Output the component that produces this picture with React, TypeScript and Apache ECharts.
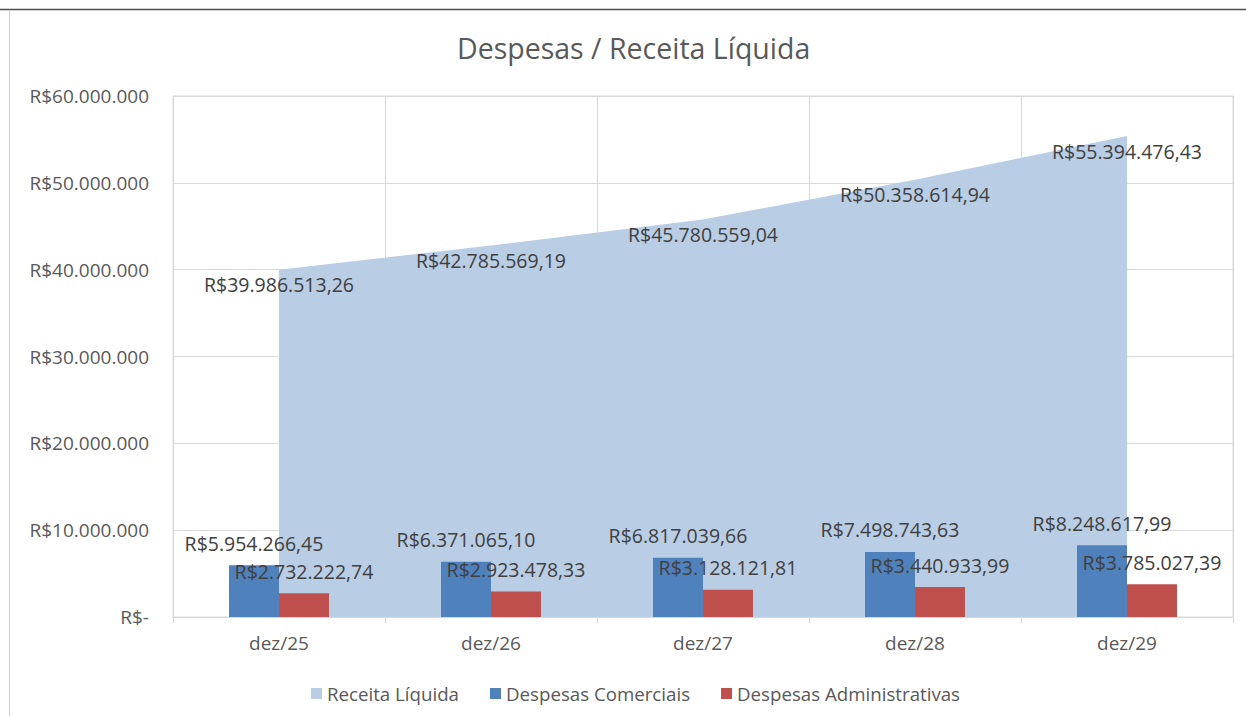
import React, { useEffect, useRef } from "react";
import * as echarts from "echarts";

const categories = ["dez/25", "dez/26", "dez/27", "dez/28", "dez/29"];
const receitaLiquida = [39986513.26, 42785569.19, 45780559.04, 50358614.94, 55394476.43];
const despesasComerciais = [5954266.45, 6371065.1, 6817039.66, 7498743.63, 8248617.99];
const despesasAdministrativas = [2732222.74, 2923478.33, 3128121.81, 3440933.99, 3785027.39];

function groupThousands(intPart: string): string {
  return intPart.replace(/\B(?=(\d{3})+(?!\d))/g, ".");
}

function brl(v: number): string {
  const fixed = v.toFixed(2);
  const [i, d] = fixed.split(".");
  return "R$" + groupThousands(i) + "," + d;
}

function axisBrl(v: number): string {
  if (v === 0) return "R$-";
  return "R$" + groupThousands(Math.round(v).toString());
}

const FONT = "Open Sans";

export default function App() {
  const ref = useRef<HTMLDivElement>(null);
  useEffect(() => {
    document.body.style.margin = "0";
    if (!ref.current) return;
    const chart = echarts.init(ref.current, undefined, { renderer: "svg" });
    const labelStyle = {
      show: true,
      fontFamily: FONT,
      fontSize: 19.5,
      color: "#404040",
      formatter: (p: any) => brl(p.value),
    };
    chart.setOption({
      animation: false,
      textStyle: { fontFamily: FONT },
      title: {
        text: "Despesas / Receita Líquida",
        left: 452,
        top: 28,
        textStyle: { fontFamily: FONT, fontSize: 28.5, fontWeight: "normal", color: "#595959" },
      },
      legend: {
        left: 306,
        top: 679,
        icon: "rect",
        itemWidth: 11,
        itemHeight: 11,
        itemGap: 31,
        textStyle: { fontFamily: FONT, fontSize: 18.7, color: "#595959" },
        data: ["Receita Líquida", "Despesas Comerciais", "Despesas Administrativas"],
      },
      grid: {
        left: 173,
        right: 13,
        top: 96,
        bottom: 99,
        show: true,
        borderColor: "#D9D9D9",
        borderWidth: 1,
      },
      xAxis: {
        type: "category",
        data: categories,
        boundaryGap: true,
        axisLine: { show: true, lineStyle: { color: "#D9D9D9", width: 1 } },
        axisTick: { show: true, length: 6, lineStyle: { color: "#D9D9D9" } },
        splitLine: { show: true, lineStyle: { color: "#D9D9D9", width: 1 } },
        axisLabel: { fontFamily: FONT, fontSize: 19, color: "#595959", margin: 16 },
      },
      yAxis: {
        type: "value",
        min: 0,
        max: 60000000,
        interval: 10000000,
        axisLine: { show: false },
        axisTick: { show: false },
        splitLine: { show: true, lineStyle: { color: "#D9D9D9", width: 1 } },
        axisLabel: {
          fontFamily: FONT,
          fontSize: 19,
          color: "#595959",
          margin: 24,
          formatter: axisBrl,
        },
      },
      series: [
        {
          name: "Receita Líquida",
          type: "line",
          data: receitaLiquida,
          symbol: "circle",
          symbolSize: 0.1,
          showSymbol: true,
          lineStyle: { width: 0, color: "#B9CDE5" },
          itemStyle: { color: "#B9CDE5" },
          areaStyle: { color: "#B9CDE5", opacity: 1 },
          z: 1,
          label: { ...labelStyle, position: "bottom", distance: 5 },
        },
        {
          name: "Despesas Comerciais",
          type: "bar",
          data: despesasComerciais,
          barWidth: 50,
          barGap: "0%",
          itemStyle: { color: "#4F81BD" },
          z: 3,
          label: { ...labelStyle, position: "top", distance: 12 },
        },
        {
          name: "Despesas Administrativas",
          type: "bar",
          data: despesasAdministrativas,
          barWidth: 50,
          barGap: "0%",
          itemStyle: { color: "#C0504D" },
          z: 3,
          label: { ...labelStyle, position: "top", distance: 12 },
        },
      ],
      graphic: [
        {
          type: "line",
          shape: { x1: 0, y1: 9.5, x2: 1246, y2: 9.5 },
          style: { stroke: "#505050", lineWidth: 1.5 },
          silent: true,
        },
        {
          type: "line",
          shape: { x1: 9.5, y1: 10, x2: 9.5, y2: 716 },
          style: { stroke: "#D0D0D0", lineWidth: 1 },
          silent: true,
        },
      ],
    });
    return () => chart.dispose();
  }, []);
  return <div ref={ref} style={{ width: 1246, height: 716 }} />;
}
